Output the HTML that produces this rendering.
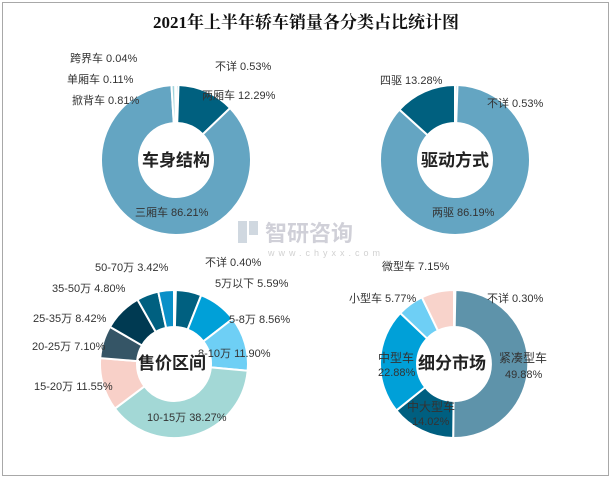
<!DOCTYPE html>
<html><head><meta charset="utf-8">
<style>
html,body{margin:0;padding:0;background:#fff;}
svg{display:block;}
text{font-family:"Liberation Sans","Noto Sans CJK SC",sans-serif;fill:#333;font-size:11px;}
.c{font-size:17px;font-weight:bold;fill:#222;text-anchor:middle;}
</style></head><body>
<svg id="s" width="612" height="479" viewBox="0 0 612 479">
<rect x="2.5" y="2.5" width="606" height="473" fill="#fff" stroke="#a8a8a8"/>
<text x="306" y="28" text-anchor="middle" style="font-family:'Liberation Serif','Noto Serif CJK SC',serif;font-size:17px;font-weight:bold;fill:#111">2021年上半年轿车销量各分类占比统计图</text>
<g id="d"></g>
<g opacity="0.45">
<rect x="238" y="221" width="9" height="22" fill="#9ab"/>
<rect x="249" y="221" width="9" height="14" fill="#9ab"/>
<text x="265" y="241" style="font-size:22px;fill:#99a;font-weight:bold">智研咨询</text>
<text x="268" y="256" style="font-size:9px;fill:#999;letter-spacing:4px">www.chyxx.com</text>
</g>
<text x="215" y="70">不详 0.53%</text>
<text x="70" y="62">跨界车 0.04%</text>
<text x="67" y="83">单厢车 0.11%</text>
<text x="72" y="104">掀背车 0.81%</text>
<text x="202" y="99">两厢车 12.29%</text>
<text x="135" y="216">三厢车 86.21%</text>
<text x="380" y="84">四驱 13.28%</text>
<text x="487" y="107">不详 0.53%</text>
<text x="432" y="216">两驱 86.19%</text>
<text x="205" y="266">不详 0.40%</text>
<text x="95" y="271">50-70万 3.42%</text>
<text x="52" y="292">35-50万 4.80%</text>
<text x="215" y="287">5万以下 5.59%</text>
<text x="33" y="322">25-35万 8.42%</text>
<text x="229" y="323">5-8万 8.56%</text>
<text x="32" y="350">20-25万 7.10%</text>
<text x="198" y="357">8-10万 11.90%</text>
<text x="34" y="390">15-20万 11.55%</text>
<text x="147" y="421">10-15万 38.27%</text>
<text x="382" y="270">微型车 7.15%</text>
<text x="349" y="302">小型车 5.77%</text>
<text x="487" y="302">不详 0.30%</text>
<text x="378" y="362" style="font-size:12px">中型车</text>
<text x="378" y="376">22.88%</text>
<text x="499" y="362" style="font-size:12px">紧凑型车</text>
<text x="505" y="378">49.88%</text>
<text x="407" y="411" style="font-size:12px">中大型车</text>
<text x="412" y="425">14.02%</text>
<text class="c" x="176" y="166">车身结构</text>
<text class="c" x="455" y="166">驱动方式</text>
<text class="c" x="172" y="369">售价区间</text>
<text class="c" x="452" y="369">细分市场</text>
</svg>
<script>
var g=document.getElementById('d');
function donut(cx,cy,R,r,data){
 var tot=0;data.forEach(function(d){tot+=d[0];});
 var a=-Math.PI/2;
 data.forEach(function(d){
  var b=a+d[0]/tot*2*Math.PI;
  var large=(b-a)>Math.PI?1:0;
  function p(rad,ang){return (cx+rad*Math.cos(ang)).toFixed(2)+','+(cy+rad*Math.sin(ang)).toFixed(2);}
  var path='M'+p(R,a)+' A'+R+','+R+' 0 '+large+' 1 '+p(R,b)+' L'+p(r,b)+' A'+r+','+r+' 0 '+large+' 0 '+p(r,a)+' Z';
  var e=document.createElementNS('http://www.w3.org/2000/svg','path');
  e.setAttribute('d',path);e.setAttribute('fill',d[1]);e.setAttribute('stroke','#fff');e.setAttribute('stroke-width','2');
  g.appendChild(e);a=b;
 });
}
donut(176,160,75,37,[[0.53,'#9fd4e0'],[12.29,'#00607f'],[86.21,'#64a5c2'],[0.81,'#a0d4dc'],[0.11,'#6ecff5'],[0.04,'#f8d0c8']]);
donut(455,160,75,37,[[0.53,'#9fd4e0'],[86.19,'#64a5c2'],[13.28,'#00607f']]);
donut(174,364,74,37,[[0.40,'#00a0d8'],[5.59,'#006080'],[8.56,'#00a0d8'],[11.90,'#6ecff5'],[38.27,'#a3d8d6'],[11.55,'#f8d0c8'],[7.10,'#355566'],[8.42,'#003a52'],[4.80,'#006080'],[3.42,'#0a90c8']]);
donut(454,364,74,37,[[0.30,'#9fd4e0'],[49.88,'#5e93aa'],[14.02,'#005f80'],[22.88,'#00a0d8'],[5.77,'#6ecff5'],[7.15,'#f8d3cb']]);
</script>
</body></html>
